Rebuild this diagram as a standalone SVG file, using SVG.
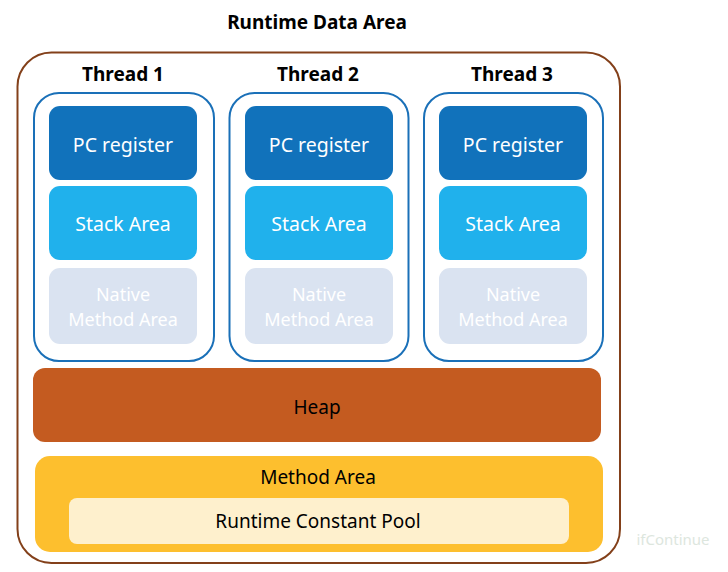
<svg xmlns="http://www.w3.org/2000/svg" width="728" height="572" viewBox="0 0 728 572">
<style>
text{font-family:"Noto Sans","Open Sans","Liberation Sans",sans-serif;text-anchor:middle}
.title{font-size:19px;font-weight:bold;fill:#000}
.thread{fill:#fff;stroke:#1a70b8;stroke-width:2}
.pc{fill:#1172bb}
.stack{fill:#20b1ec}
.native{fill:#dae3f1}
.wt{font-size:19.5px;fill:#fff}
.nt{font-size:18px;fill:#fff}
.bt{font-size:19px;fill:#000}
</style>
<rect width="728" height="572" fill="#fff"/>
<g id="runtime-data-area">
<rect x="17.5" y="52.5" width="602.5" height="510.5" rx="34" fill="none" stroke="#83401a" stroke-width="2"/>
<text class="title" x="317" y="29">Runtime Data Area</text>
</g>
<g id="thread1">
<text class="title" x="123" y="81">Thread 1</text>
<rect class="thread" x="34" y="93" width="180" height="268" rx="25"/>
<g id="t1-pc"><rect class="pc" x="49" y="106" width="148" height="74" rx="11"/><text class="wt" x="123" y="152">PC register</text></g>
<g id="t1-stack"><rect class="stack" x="49" y="186" width="148" height="74" rx="11"/><text class="wt" x="123" y="231">Stack Area</text></g>
<g id="t1-native"><rect class="native" x="49" y="268" width="148" height="76" rx="11"/><text class="nt" x="123" y="300.5">Native</text><text class="nt" x="123" y="325.5">Method Area</text></g>
</g>
<g id="thread2">
<text class="title" x="318" y="81">Thread 2</text>
<rect class="thread" x="229.5" y="93" width="179" height="268" rx="25"/>
<g id="t2-pc"><rect class="pc" x="245" y="106" width="148" height="74" rx="11"/><text class="wt" x="319" y="152">PC register</text></g>
<g id="t2-stack"><rect class="stack" x="245" y="186" width="148" height="74" rx="11"/><text class="wt" x="319" y="231">Stack Area</text></g>
<g id="t2-native"><rect class="native" x="245" y="268" width="148" height="76" rx="11"/><text class="nt" x="319" y="300.5">Native</text><text class="nt" x="319" y="325.5">Method Area</text></g>
</g>
<g id="thread3">
<text class="title" x="512" y="81">Thread 3</text>
<rect class="thread" x="424" y="93" width="179" height="268" rx="25"/>
<g id="t3-pc"><rect class="pc" x="439" y="106" width="148" height="74" rx="11"/><text class="wt" x="513" y="152">PC register</text></g>
<g id="t3-stack"><rect class="stack" x="439" y="186" width="148" height="74" rx="11"/><text class="wt" x="513" y="231">Stack Area</text></g>
<g id="t3-native"><rect class="native" x="439" y="268" width="148" height="76" rx="11"/><text class="nt" x="513" y="300.5">Native</text><text class="nt" x="513" y="325.5">Method Area</text></g>
</g>
<g id="heap">
<rect x="33" y="368" width="568" height="74" rx="12" fill="#c45b20"/>
<text class="bt" x="317" y="414">Heap</text>
</g>
<g id="method-area">
<rect x="35" y="456" width="568" height="96" rx="15" fill="#fdbf2e"/>
<text class="bt" x="318" y="484">Method Area</text>
<g id="runtime-constant-pool">
<rect x="69" y="498" width="500" height="46" rx="8" fill="#fef0cd"/>
<text class="bt" x="318" y="528">Runtime Constant Pool</text>
</g>
</g>
<text x="673" y="545" style="font-size:15px;fill:#dde6de">ifContinue</text>
<g id="connectors"/>
</svg>
